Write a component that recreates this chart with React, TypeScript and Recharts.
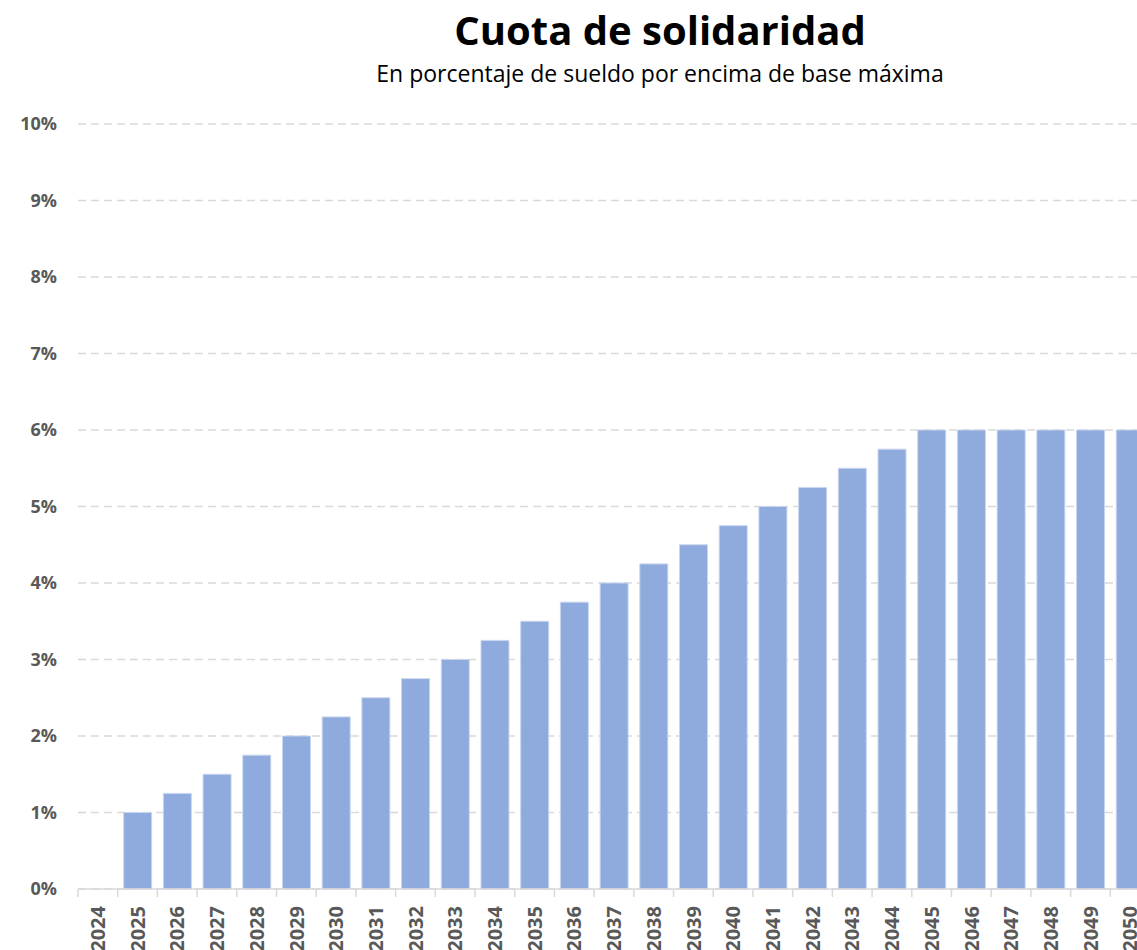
import { BarChart, Bar, XAxis, YAxis, CartesianGrid } from "recharts";

const years = [
  "2024", "2025", "2026", "2027", "2028", "2029", "2030", "2031", "2032",
  "2033", "2034", "2035", "2036", "2037", "2038", "2039", "2040", "2041",
  "2042", "2043", "2044", "2045", "2046", "2047", "2048", "2049", "2050",
];
const cuota = [
  0, 1, 1.25, 1.5, 1.75, 2, 2.25, 2.5, 2.75,
  3, 3.25, 3.5, 3.75, 4, 4.25, 4.5, 4.75, 5,
  5.25, 5.5, 5.75, 6, 6, 6, 6, 6, 6,
];
const yTicks = [0, 1, 2, 3, 4, 5, 6, 7, 8, 9, 10];

const data = years.map((year, i) => ({ year, cuota: cuota[i] }));

const CHART_W = 1170;
const CHART_H = 1000;
const MARGIN = { top: 124, right: 20, bottom: 0, left: 0 };
const Y_AXIS_W = 78;
const HALF_BAND = (CHART_W - MARGIN.left - MARGIN.right - Y_AXIS_W) / years.length / 2;

const font = "'Open Sans', sans-serif";
const labelColor = "#595959";

const YearTick = (props: any) => {
  const { x, y, payload } = props;
  return (
    <g>
      <line x1={x - HALF_BAND} y1={y} x2={x - HALF_BAND} y2={y + 8} stroke="#D9D9D9" strokeWidth={1.5} />
      <text
        x={x}
        y={y + 17}
        dy="0.36em"
        transform={`rotate(-90, ${x}, ${y + 17})`}
        textAnchor="end"
        fill={labelColor}
        fontFamily={font}
        fontWeight={700}
        fontSize={20}
      >
        {payload.value}
      </text>
    </g>
  );
};

export default function App() {
  return (
    <div style={{ position: "fixed", left: 0, top: 0, width: 1137, height: 950, overflow: "hidden", background: "#fff" }}>
      <div style={{ position: "absolute", left: 0, top: 3, width: 1320, textAlign: "center", fontFamily: font }}>
        <div style={{ fontSize: 40, fontWeight: 700, color: "#000", lineHeight: "54px" }}>Cuota de solidaridad</div>
        <div style={{ fontSize: 23, color: "#000", lineHeight: "32px", marginTop: 0 }}>
          En porcentaje de sueldo por encima de base máxima
        </div>
      </div>
      <div style={{ position: "absolute", left: 0, top: 0 }}>
        <BarChart width={CHART_W} height={CHART_H} data={data} margin={MARGIN} barCategoryGap="15%">
          <CartesianGrid vertical={false} stroke="#D9D9D9" strokeDasharray="8 5" strokeWidth={1.5} />
          <XAxis
            dataKey="year"
            height={CHART_H - 889 - MARGIN.bottom}
            interval={0}
            tickLine={false}
            tickSize={0}
            tickMargin={0}
            axisLine={{ stroke: "#D9D9D9", strokeWidth: 1.5 }}
            tick={<YearTick />}
          />
          <YAxis
            width={Y_AXIS_W}
            domain={[0, 10]}
            ticks={yTicks}
            interval={0}
            axisLine={false}
            tickLine={false}
            tickSize={0}
            tickMargin={21}
            tickFormatter={(v: number) => `${v}%`}
            tick={{ fill: labelColor, fontFamily: font, fontWeight: 700, fontSize: 18 }}
          />
          <Bar dataKey="cuota" fill="#8FAADC" stroke="#C9D6EF" strokeWidth={1} isAnimationActive={false} />
        </BarChart>
      </div>
    </div>
  );
}
